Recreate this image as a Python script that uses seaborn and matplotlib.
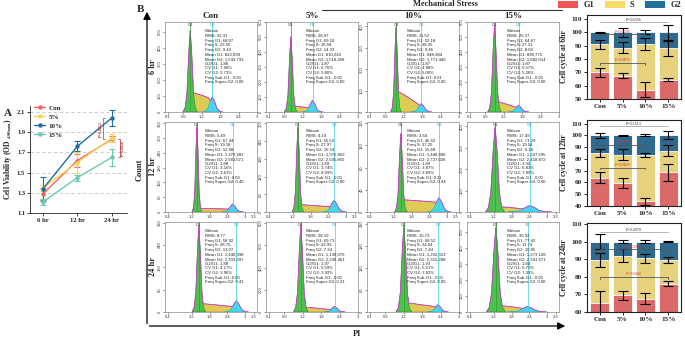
import matplotlib.pyplot as plt
import numpy as np
import pandas as pd
import seaborn as sns
from matplotlib.patches import Patch

W, H = 685, 340

# ---------------- panel A: cell viability ----------------
TIMES = ["6 hr", "12 hr", "24 hr"]
GROUPS = ["Con", "5%", "10%", "15%"]
VIAB_CON = [1.29, 1.62, 1.83]
VIAB_5 = [1.35, 1.60, 1.84]
VIAB_10 = [1.34, 1.76, 2.04]
VIAB_15 = [1.21, 1.45, 1.65]
ERR_CON = [0.06, 0.06, 0.03]
ERR_5 = [0.03, 0.10, 0.04]
ERR_10 = [0.12, 0.05, 0.08]
ERR_15 = [0.03, 0.03, 0.08]
VIAB_P = ["P=0.0012", "P=0.0026"]
LINE_COLORS = ["#F2625A", "#F7D454", "#1F6FA3", "#6CC8B4"]

# ---------------- panel B: flow cytometry (rows 6/12/24 hr, cols Con/5/10/15%) ----------------
ROW_LABELS = ["6 hr", "12 hr", "24 hr"]
RMS = [[32.31, 28.97, 11.53, 26.37], [5.49, 4.19, 3.64, 17.49], [8.77, 28.19, 10.73, 30.92]]
FREQ_G1 = [[68.07, 69.10, 52.18, 64.67], [67.44, 55.52, 46.52, 71.29], [58.92, 69.73, 68.52, 77.42]]
FREQ_S = [[22.50, 16.58, 38.35, 27.31], [19.18, 27.97, 37.25, 19.54], [28.76, 22.93, 24.04, 11.74]]
FREQ_G2 = [[9.43, 14.33, 9.46, 8.03], [12.98, 16.53, 15.68, 9.18], [13.07, 7.34, 7.44, 10.85]]
MEAN_G1 = [[822893, 810243, 948384, 898775], [1376682, 1376862, 1440996, 1247595],
           [1440998, 1136076, 1202313, 1273128]]
MEAN_G2 = [[1543793, 1518458, 1771446, 1682014], [2581571, 2595865, 2727026, 2418872],
           [2703397, 2236461, 2315288, 2341671]]
G2G1 = [[1.88, 1.87, 1.87, 1.87], [1.88, 1.89, 1.89, 1.94], [1.88, 1.97, 1.93, 1.84]]
CV_G1 = [[7.68, 6.76, 4.88, 6.57], [3.16, 3.74, 3.87, 6.83], [4.17, 5.59, 5.61, 6.73]]
CV_G2 = [[5.73, 5.80, 5.00, 5.26], [3.61, 4.09, 3.89, 7.89], [3.96, 3.99, 3.82, 7.33]]
SUB_G1 = [[-0.01, -0.01, 0.01, -0.01], [0.03, -0.01, 0.11, -0.01], [0.03, -0.01, -0.01, -0.01]]
SUPER_G2 = [[0.00, 0.00, 0.00, 0.00], [0.40, 0.00, 0.94, 0.00], [0.41, 0.31, 0.00, 0.00]]
# read heights of the histogram components (counts)
PEAK_G1 = [[510, 505, 400, 580], [350, 290, 142, 400], [310, 785, 235, 530]]
S_LEFT = [[120, 40, 95, 70], [15, 25, 22, 25], [30, 45, 25, 40]]
S_RIGHT = [[90, 28, 40, 35], [12, 18, 18, 15], [20, 22, 15, 25]]
PEAK_G2 = [[95, 78, 40, 45], [33, 40, 26, 30], [40, 52, 20, 35]]
Y_MAX = [[560, 600, 420, 600], [365, 305, 162, 420], [322, 810, 245, 560]]
Y_STEP = [[100, 100, 100, 100], [60, 60, 40, 100], [80, 200, 60, 100]]
X_SCALE = [["low"] * 4, ["high"] * 4, ["high", "low", "low", "high"]]
X_TICKS = {"low": [0.1, 0.6, 1.2, 1.8, 2.4, 3.0], "high": [0.4, 1.2, 1.8, 2.4, 3.0, 3.3]}
X_TICKLABELS = {"low": ["0.1", "0.6", "1.2", "1.8", "2.4", "3"], "high": ["0.4", "1.2", "1.8", "2.4", "3", "3.3"]}
X_LIMS = {"low": (0.0, 3.0), "high": (0.3, 3.4)}

# ---------------- cell cycle bars ----------------
CYCLE_TIMES = ["6hr", "12hr", "24hr"]
BAR_G1 = [[70, 67.5, 57, 64.5], [64, 59.5, 44, 68.5], [65, 69.5, 67.5, 76]]
BAR_S = [[21, 21, 34.5, 23.5], [21, 24, 39.5, 18.5], [24.5, 22.5, 23, 13.5]]
BAR_G2 = [[9, 11.5, 8.5, 12], [15, 16.5, 16.5, 13], [10.5, 8, 9.5, 10.5]]
ERR_G1 = [[3.2, 2, 5.7, 1.2], [4.5, 4.5, 3, 7], [7, 2.5, 3, 1.5]]
ERR_S = [[3.2, 4, 4.5, 5.5], [3, 4.5, 1.5, 4.5], [4, 3.5, 2.5, 1.5]]
ERR_G2 = [[0.5, 3.5, 1.5, 5.5], [2, 0.5, 1, 3.5], [4, 1, 1, 0.3]]
Y_LOW = [50, 40, 60]
P_TOP = ["P=0.6356", "P=0.1513", "P=0.4979"]
P_MID = ["P=0.0206", "P=0.0809", "P=0.0068"]
P_LOW = ["P=0.0871", "P=0.0847", "P=0.0484"]
P_MID_END = [2, 2, 3]
LEVEL_TOP = [108, 108, 105.5]
LEVEL_MID = [98.5, 92, 95.5]
LEVEL_LOW = [77, 72.5, 80]
CYCLE_COLORS = ["#EF5656", "#F8DC6A", "#1F6E9E"]

SHAPE_FR = np.array([-1, -0.7, -0.45, -0.2, 0, 0.2, 0.45, 0.7, 1])
SHAPE_FH = np.array([0, 0.05, 0.22, 0.72, 1, 0.72, 0.22, 0.05, 0])


def px_axes(fig, left, top, right, bottom):
    return fig.add_axes([left / W, 1 - bottom / H, (right - left) / W, (bottom - top) / H])


def draw_viability(fig):
    ax = px_axes(fig, 30, 106, 127, 213)
    series = [VIAB_CON, VIAB_5, VIAB_10, VIAB_15]
    errs = [ERR_CON, ERR_5, ERR_10, ERR_15]
    df = pd.DataFrame(
        [(g, i, v) for g, vals in zip(GROUPS, series) for i, v in enumerate(vals)],
        columns=["group", "time", "od"],
    )
    ax.yaxis.grid(True, linestyle=(0, (4, 3)), color="#c4c4c4", linewidth=0.6)
    ax.set_axisbelow(True)
    for vals, err, color in zip(series, errs, LINE_COLORS):
        ax.errorbar(range(len(TIMES)), vals, yerr=err, fmt="none", ecolor=color,
                    elinewidth=0.8, capsize=2.2, capthick=0.8)
    sns.lineplot(data=df, x="time", y="od", hue="group", palette=LINE_COLORS,
                 marker="o", markersize=3.2, markeredgewidth=0, linewidth=1.0, ax=ax)
    ax.set_xlim(-0.38, 2.45)
    ax.set_ylim(1.1, 2.16)
    ax.set_yticks([1.1, 1.3, 1.5, 1.7, 1.9, 2.1])
    ax.set_xticks(range(len(TIMES)))
    ax.set_xticklabels(TIMES)
    ax.tick_params(labelsize=4.8, length=2, width=0.6, pad=1.5)
    for lab in ax.get_xticklabels() + ax.get_yticklabels():
        lab.set_fontweight("bold")
    ax.set_xlabel("")
    ax.set_ylabel(r"Cell Viability (OD $_{\mathbf{450nm}}$)", fontsize=5.5, fontweight="bold", labelpad=2)
    sns.despine(ax=ax)
    for s in ax.spines.values():
        s.set_linewidth(0.6)
    ax.legend(loc="upper left", bbox_to_anchor=(-0.02, 1.07), frameon=False,
              handlelength=1.6, handletextpad=0.5, labelspacing=0.45,
              prop={"weight": "bold", "size": 5})
    # significance brackets at 24 hr
    red = "#B83232"
    ax.plot([1.80, 1.76, 1.76, 1.80], [VIAB_10[2], VIAB_10[2], VIAB_CON[2], VIAB_CON[2]], color=red, lw=0.5)
    ax.text(1.70, (VIAB_10[2] + VIAB_CON[2]) / 2, VIAB_P[0], rotation=90, color=red,
            fontsize=3, ha="center", va="center")
    ax.plot([2.2, 2.26, 2.26, 2.2], [VIAB_CON[2], VIAB_CON[2], VIAB_15[2], VIAB_15[2]], color=red, lw=0.5)
    ax.text(2.33, (VIAB_CON[2] + VIAB_15[2]) / 2, VIAB_P[1], rotation=90, color=red,
            fontsize=3, ha="center", va="center")


def peak_shape(pos, height, cv):
    hw = 3.8 * cv / 100 * pos
    return pos + SHAPE_FR * hw, SHAPE_FH * height


def draw_histogram(ax, r, c):
    g1 = MEAN_G1[r][c] / 1e6
    g2 = MEAN_G2[r][c] / 1e6
    gx, gy = peak_shape(g1, PEAK_G1[r][c], CV_G1[r][c])
    cx, cy = peak_shape(g2, PEAK_G2[r][c], CV_G2[r][c])
    hw1 = 3.8 * CV_G1[r][c] / 100 * g1
    hw2 = 3.8 * CV_G2[r][c] / 100 * g2
    sx = np.array([g1, g1 + hw1 * 0.45, (g1 + g2) / 2, g2 - hw2 * 0.4, g2, g2 + hw2 * 0.8])
    sy = np.array([0, S_LEFT[r][c], (S_LEFT[r][c] + S_RIGHT[r][c]) / 2, S_RIGHT[r][c],
                   S_RIGHT[r][c] * 0.6, 0])

    ax.fill(sx, sy, color="#DCCB55", lw=0.4, ec="#D0603A", zorder=2)
    ax.fill(gx, gy, color="#4CC24C", lw=0.4, ec="#238B23", zorder=3)
    ax.fill(cx, cy, color="#47D6EC", lw=0.4, ec="#1AA7C0", zorder=4)
    grid = np.linspace(gx[0], cx[-1], 300)
    env = np.maximum.reduce([np.interp(grid, gx, gy), np.interp(grid, sx, sy), np.interp(grid, cx, cy)])
    ax.plot(grid, env, color="#D43CD4", lw=0.6, zorder=5)
    ax.axvline(g1, color="#2EA02E", lw=0.5, zorder=6)
    ax.axvline(g2, color="#3CCFE6", lw=0.5, zorder=6)

    kind = X_SCALE[r][c]
    ax.set_xlim(*X_LIMS[kind])
    ax.set_ylim(0, Y_MAX[r][c])
    ax.set_xticks(X_TICKS[kind])
    ax.set_xticklabels(X_TICKLABELS[kind])
    ax.set_yticks(np.arange(0, Y_MAX[r][c] + 1, Y_STEP[r][c]))
    ax.tick_params(labelsize=3, length=1.5, width=0.4, pad=1, colors="#333333")
    for lab in ax.get_yticklabels():
        lab.set_rotation(90)
        lab.set_va("center")
    for lab in ax.get_xticklabels() + ax.get_yticklabels():
        lab.set_fontfamily("Liberation Sans")
        lab.set_fontweight("normal")
    for s in ax.spines.values():
        s.set_linewidth(0.5)
        s.set_color("#8a8a8a")
    ax.text(g1, Y_MAX[r][c] * 0.985, "G1", fontsize=3, ha="center", va="top",
            family="Liberation Sans", fontweight="normal", color="#333333", zorder=7)
    ax.text(g2, Y_MAX[r][c] * 0.985, "G2", fontsize=3, ha="center", va="top",
            family="Liberation Sans", fontweight="normal", color="#1AA7C0", zorder=7)

    lines = [
        "Watson",
        f"RMS: {RMS[r][c]:.2f}",
        f"Freq G1: {FREQ_G1[r][c]:.2f}",
        f"Freq S: {FREQ_S[r][c]:.2f}",
        f"Freq G2: {FREQ_G2[r][c]:.2f}",
        f"Mean G1: {MEAN_G1[r][c]:,}",
        f"Mean G2: {MEAN_G2[r][c]:,}",
        f"G2/G1: {G2G1[r][c]:.2f}",
        f"CV G1: {CV_G1[r][c]:.2f}%",
        f"CV G2: {CV_G2[r][c]:.2f}%",
        f"Freq Sub-G1: {SUB_G1[r][c]:.2f}",
        f"Freq Super-G2: {SUPER_G2[r][c]:.2f}",
    ]
    ax.text(0.44, 0.92, "\n".join(lines), transform=ax.transAxes, fontsize=3.1,
            family="Liberation Sans", fontweight="normal", va="top", ha="left",
            linespacing=1.22, color="#222222", zorder=8)


def bracket(ax, x0, x1, level, text, color, line_color, drop):
    ax.plot([x0, x0, x1, x1], [level - drop, level, level, level - drop], color=line_color, lw=0.6, zorder=6)
    ax.text((x0 + x1) / 2, level + drop * 0.3, text, fontsize=3, color=color, ha="center", va="bottom",
            fontweight="normal", zorder=7)


def draw_cycle(fig, i, box):
    ax = px_axes(fig, *box)
    g1 = np.array(BAR_G1[i])
    s_top = g1 + np.array(BAR_S[i])
    total = s_top + np.array(BAR_G2[i])
    for vals, color in zip([total, s_top, g1], CYCLE_COLORS[::-1]):
        sns.barplot(x=GROUPS, y=vals, color=color, width=0.84, edgecolor="white", linewidth=0.6, ax=ax)
    for vals, err in zip([g1, s_top, total], [ERR_G1[i], ERR_S[i], ERR_G2[i]]):
        ax.errorbar(range(len(GROUPS)), vals, yerr=err, fmt="none", ecolor="black",
                    elinewidth=0.8, capsize=3.6, capthick=0.8, zorder=5)
    top = 110.5 if i == 2 else 113
    ax.set_ylim(Y_LOW[i], top)
    ax.set_yticks(np.arange(Y_LOW[i], 111, 10))
    ax.set_xlim(-0.55, 3.55)
    ax.tick_params(labelsize=5.2, length=2, width=0.7, pad=1.5)
    for lab in ax.get_xticklabels() + ax.get_yticklabels():
        lab.set_fontweight("bold")
    ax.set_ylabel(f"Cell cycle at {CYCLE_TIMES[i]}", fontsize=5.5, fontweight="bold", labelpad=2)
    for s in ax.spines.values():
        s.set_linewidth(0.8)
        s.set_color("#222222")
    unit = (top - Y_LOW[i]) / 60
    bracket(ax, 0, 3, LEVEL_TOP[i], P_TOP[i], "#222222", "#a8a8a8", 0.0)
    bracket(ax, 0, P_MID_END[i], LEVEL_MID[i], P_MID[i], "#D23030", "#555555", 1.2 * unit)
    bracket(ax, 0, P_MID_END[i], LEVEL_LOW[i], P_LOW[i], "#D23030", "#555555", 1.2 * unit)


def main() -> None:
    sns.set_theme(style="ticks")
    plt.rcParams["font.family"] = ["Liberation Serif", "DejaVu Serif"]
    plt.rcParams["font.weight"] = "bold"
    plt.rcParams["mathtext.fontset"] = "stix"

    fig = plt.figure(figsize=(W / 100, H / 100), dpi=100)

    draw_viability(fig)

    lefts = [165, 266, 367, 467]
    tops = [22, 122, 222]
    for r, top in enumerate(tops):
        for c, left in enumerate(lefts):
            ax = px_axes(fig, left, top, left + 92, top + 90)
            draw_histogram(ax, r, c)

    boxes = [(587, 15, 681, 99), (587, 120, 681, 206), (587, 223, 681, 312)]
    for i, box in enumerate(boxes):
        draw_cycle(fig, i, box)

    handles = [Patch(facecolor=col, edgecolor="none") for col in CYCLE_COLORS]
    fig.legend(handles, ["G1", "S", "G2"], ncol=3, loc="upper right", bbox_to_anchor=(1.005, 1.02),
               frameon=False, prop={"weight": "bold", "size": 6}, handlelength=2.4,
               handleheight=0.9, handletextpad=0.6, columnspacing=1.3)

    # overlay for panel letters, arrows and headers (pixel coordinates)
    ov = fig.add_axes([0, 0, 1, 1])
    ov.set_xlim(0, W)
    ov.set_ylim(H, 0)
    ov.axis("off")
    ov.text(4, 113, "A", fontsize=8, fontweight="bold", va="center")
    ov.text(137, 10, "B", fontsize=8, fontweight="bold", va="center")
    ov.annotate("", xy=(147, 9), xytext=(147, 326.4),
                arrowprops=dict(arrowstyle="-|>", lw=0.9, color="black", mutation_scale=11))
    ov.annotate("", xy=(568, 326), xytext=(146.6, 326),
                arrowprops=dict(arrowstyle="-|>", lw=0.9, color="black", mutation_scale=11))
    ov.text(140, 170, "Count", rotation=90, fontsize=6, fontweight="bold", ha="center", va="center")
    ov.text(357, 334, "PI", fontsize=6, fontweight="bold", ha="center", va="center")
    for top, lab in zip(tops, ROW_LABELS):
        ov.text(153, top + 45, lab, rotation=90, fontsize=6, fontweight="bold", ha="center", va="center")
    for left, lab in zip(lefts, GROUPS):
        ov.text(left + 46, 16, lab, fontsize=6.5, fontweight="bold", ha="center", va="center")
    ov.plot([322, 562], [10, 10], color="#333333", lw=0.8)
    ov.text(445, 4, "Mechanical Stress", fontsize=6, fontweight="bold", ha="center", va="center")

    fig.savefig("out.png", dpi=100)
    plt.close(fig)


if __name__ == "__main__":
    main()
